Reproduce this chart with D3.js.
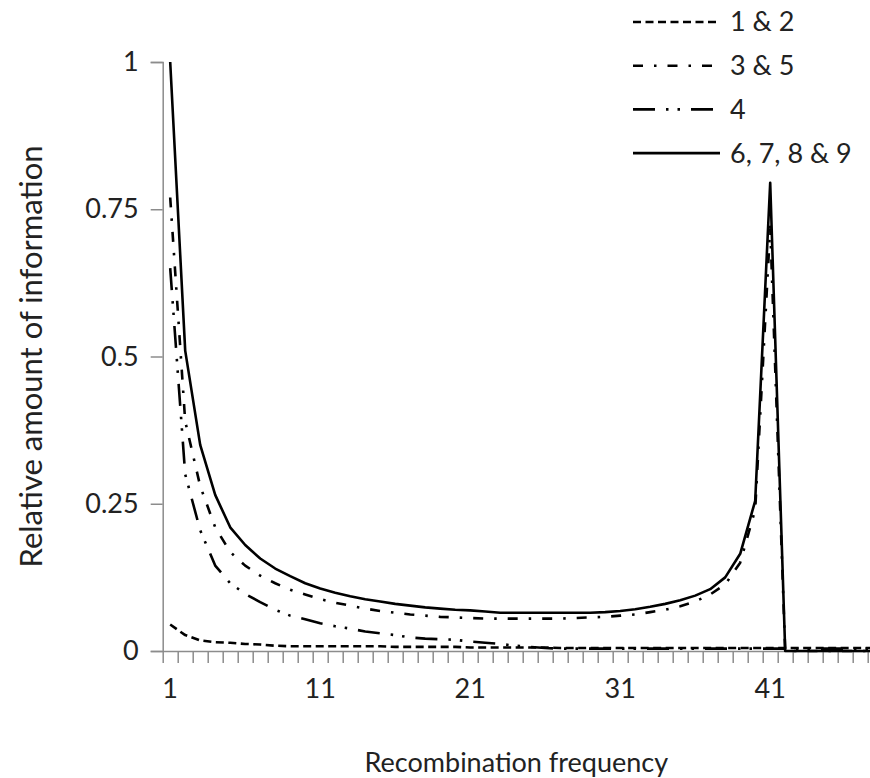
<!DOCTYPE html>
<html>
<head>
<meta charset="utf-8">
<script src="https://cdn.jsdelivr.net/npm/d3@7"></script>
<style>
  body { margin: 0; background: #fff; }
  svg { display: block; font-family: Lato, "Open Sans", sans-serif; }
</style>
</head>
<body>
<div id="chart"></div>
<script>
// recombination frequency categories 1..48
const categories = d3.range(1, 49);
const yTicks = [0, 0.25, 0.5, 0.75, 1];
const xLabels = [1, 11, 21, 31, 41];

const s12 = [0.045, 0.027, 0.018, 0.015, 0.014, 0.012, 0.011, 0.009, 0.008, 0.008,
  0.008, 0.008, 0.008, 0.008, 0.008, 0.007, 0.007, 0.007, 0.007, 0.007,
  0.006, 0.006, 0.006, 0.006, 0.006, 0.006, 0.005, 0.005, 0.005, 0.005,
  0.005, 0.005, 0.005, 0.005, 0.005, 0.005, 0.005, 0.005, 0.005, 0.005,
  0.005, 0.005, 0.005, 0.005, 0.005, 0.005, 0.005, 0.005];
const s35 = [0.77, 0.39, 0.28, 0.21, 0.168, 0.145, 0.128, 0.115, 0.104, 0.096,
  0.088, 0.082, 0.077, 0.072, 0.068, 0.065, 0.062, 0.060, 0.058, 0.057,
  0.056, 0.055, 0.055, 0.055, 0.055, 0.055, 0.055, 0.056, 0.057, 0.058,
  0.060, 0.062, 0.066, 0.070, 0.076, 0.084, 0.096, 0.113, 0.150, 0.240,
  0.720, 0, 0, 0, 0, 0, 0, 0];
const s4 = [0.65, 0.30, 0.205, 0.145, 0.115, 0.097, 0.083, 0.070, 0.060, 0.054,
  0.047, 0.042, 0.038, 0.033, 0.030, 0.027, 0.023, 0.021, 0.020, 0.019,
  0.016, 0.014, 0.012, 0.009, 0.007, 0.005, 0.004, 0.004, 0.004, 0.004,
  0.004, 0.004, 0.004, 0.004, 0.004, 0.004, 0.004, 0.004, 0.004, 0.004,
  0.004, 0.004, 0.004, 0.004, 0.004, 0.004, 0.004, 0.004];
const s6789 = [1.0, 0.51, 0.35, 0.265, 0.21, 0.18, 0.157, 0.14, 0.127, 0.115,
  0.106, 0.099, 0.093, 0.088, 0.084, 0.080, 0.077, 0.074, 0.072, 0.070,
  0.069, 0.067, 0.065, 0.065, 0.065, 0.065, 0.065, 0.065, 0.065, 0.066,
  0.068, 0.071, 0.075, 0.080, 0.086, 0.094, 0.105, 0.125, 0.165, 0.255,
  0.795, 0, 0, 0, 0, 0, 0, 0];

const seriesNames = ["1 & 2", "3 & 5", "4", "6, 7, 8 & 9"];
const seriesValues = [s12, s35, s4, s6789];
const dashes = ["8,4.5", "10,11,2.5,11", "22,11,2.5,9,2.5,11", null];

const W = 870, H = 778;
const x0 = 162.7, bandW = 15;
const yTop = 62, yBot = 651;

const svg = d3.select("#chart").append("svg")
  .attr("width", W).attr("height", H);

const x = d3.scaleBand()
  .domain(categories)
  .range([x0, x0 + bandW * categories.length]);
const xEdge = d3.scaleLinear()
  .domain([0, categories.length])
  .range([x0, x0 + bandW * categories.length]);
const y = d3.scaleLinear().domain([0, 1]).range([yBot, yTop]);

const axisColor = "#8c8c8c";

// y axis
const gy = svg.append("g")
  .attr("transform", `translate(${x0},0)`)
  .call(d3.axisLeft(y).tickValues(yTicks).tickSize(12).tickPadding(12)
    .tickFormat(d => d3.format("~g")(d)));
gy.select(".domain").attr("stroke", axisColor).attr("stroke-width", 1.5);
gy.selectAll(".tick line").attr("stroke", axisColor).attr("stroke-width", 1.5);
gy.selectAll(".tick text").attr("fill", "#222").style("font-size", "27px")
  .style("font-family", "Lato, sans-serif");

// x axis: ticks between categories
const gxTicks = svg.append("g")
  .attr("transform", `translate(0,${yBot})`)
  .call(d3.axisBottom(xEdge).tickValues(d3.range(0, categories.length + 1))
    .tickSize(12).tickSizeOuter(0).tickFormat(""));
gxTicks.select(".domain").attr("stroke", axisColor).attr("stroke-width", 1.5);
gxTicks.selectAll(".tick line").attr("stroke", axisColor).attr("stroke-width", 1.5);

const gxLab = svg.append("g")
  .attr("transform", `translate(0,${yBot})`)
  .call(d3.axisBottom(x).tickValues(xLabels).tickSize(0).tickPadding(28));
gxLab.select(".domain").remove();
gxLab.selectAll(".tick text").attr("fill", "#222").style("font-size", "27px")
  .style("font-family", "Lato, sans-serif");

// series lines
const line = d3.line()
  .x((d, i) => x(categories[i]) + x.bandwidth() / 2)
  .y(d => y(d));

seriesValues.forEach((vals, k) => {
  svg.append("path")
    .datum(vals)
    .attr("fill", "none")
    .attr("stroke", "#000")
    .attr("stroke-width", 2.6)
    .attr("stroke-linejoin", "round")
    .attr("stroke-dasharray", dashes[k])
    .attr("d", line);
});

// legend
const legend = svg.append("g").attr("transform", "translate(633,22)");
seriesNames.forEach((name, k) => {
  const g = legend.append("g").attr("transform", `translate(0,${k * 43.7})`);
  g.append("line")
    .attr("x1", 0).attr("x2", 87)
    .attr("stroke", "#000").attr("stroke-width", 2.6)
    .attr("stroke-dasharray", dashes[k]);
  g.append("text")
    .attr("x", 97).attr("dy", "0.35em")
    .style("font-size", "27px").attr("fill", "#222")
    .text(name);
});

// axis titles
svg.append("text")
  .attr("x", (x0 + W) / 2).attr("y", 772)
  .attr("text-anchor", "middle")
  .style("font-size", "27px").attr("fill", "#222")
  .text("Recombination frequency");

svg.append("text")
  .attr("transform", `translate(42,${(yTop + yBot) / 2}) rotate(-90)`)
  .attr("text-anchor", "middle")
  .style("font-size", "31px").attr("fill", "#222")
  .text("Relative amount of information");
</script>
</body>
</html>
